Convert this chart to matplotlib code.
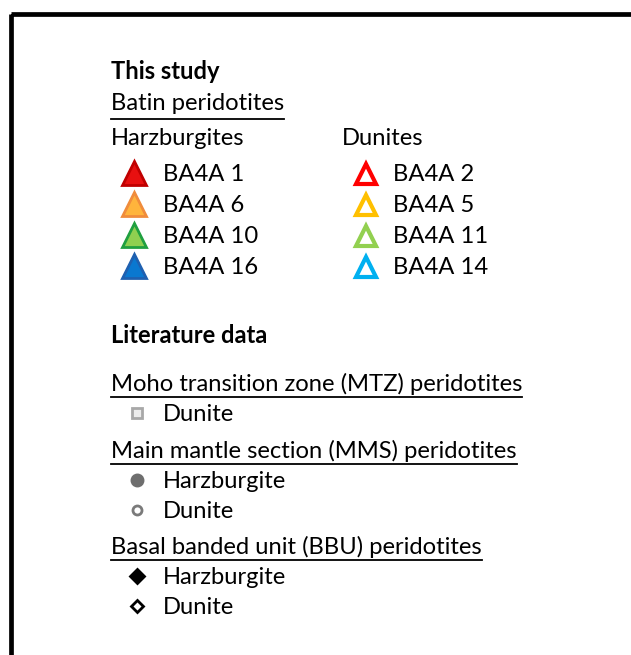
import matplotlib
matplotlib.use("Agg")
import matplotlib.pyplot as plt
from matplotlib.patches import Rectangle

plt.rcParams['font.family'] = ['Lato', 'DejaVu Sans']

# legend content
harz_labels = ["BA4A 1", "BA4A 6", "BA4A 10", "BA4A 16"]
harz_edge = ["#c00000", "#f08c3c", "#20a040", "#1f60b0"]
harz_face = ["#e81010", "#ffb43c", "#8fd050", "#0a78d0"]
dun_labels = ["BA4A 2", "BA4A 5", "BA4A 11", "BA4A 14"]
dun_edge = ["#ff0000", "#ffc000", "#92d050", "#00b0f0"]

lit_groups = ["Moho transition zone (MTZ) peridotites",
              "Main mantle section (MMS) peridotites",
              "Basal banded unit (BBU) peridotites"]
lit_items = [["Dunite"], ["Harzburgite", "Dunite"], ["Harzburgite", "Dunite"]]
lit_markers = [["s"], ["o", "o"], ["D", "D"]]
lit_face = [["#ececec"], ["#6e6e6e", "white"], ["black", "white"]]
lit_edge = [["#a8a8a8"], ["#6e6e6e", "#7a7a7a"], ["black", "black"]]
lit_ms = [[7], [8, 6.5], [7.5, 6.5]]

fs = 17.1
fig = plt.figure(figsize=(6.31, 6.55), dpi=100)
ax = fig.add_axes([0, 0, 1, 1])
ax.set_xlim(0, 631)
ax.set_ylim(655, 0)
ax.axis('off')

# border box (runs off the right/bottom of the picture)
ax.add_patch(Rectangle((10.5, 13.5), 700, 700, fill=False, lw=3.4, ec='black'))

fig.canvas.draw()
r = fig.canvas.get_renderer()


def txt(x, y, s, **kw):
    return ax.text(x, y, s, fontsize=fs, va='baseline', ha='left', **kw)


def underlined(x, y, s, gap):
    t = txt(x, y, s)
    bb = t.get_window_extent(r).transformed(ax.transData.inverted())
    ax.plot([x, bb.x1], [y + gap, y + gap], color='black', lw=1.3)


x0 = 111
txt(x0, 79, "This study", fontweight='bold')
underlined(x0, 110, "Batin peridotites", 9)
txt(x0, 145, "Harzburgites")
txt(342, 145, "Dunites")

for i in range(4):
    y = 173 + 31 * i
    ax.plot(134, y, marker='^', ms=17, mfc=harz_face[i], mec=harz_edge[i], mew=2)
    txt(163, y + 8, harz_labels[i])
    ax.plot(366, y + 1, marker='^', ms=15, mfc='white', mec=dun_edge[i], mew=3)
    txt(393, y + 8, dun_labels[i])

txt(x0, 343, "Literature data", fontweight='bold')

y = 391
for g in range(3):
    underlined(x0, y, lit_groups[g], 6)
    y += 22
    for k in range(len(lit_items[g])):
        ax.plot(137, y, marker=lit_markers[g][k], ms=lit_ms[g][k],
                mfc=lit_face[g][k], mec=lit_edge[g][k], mew=2)
        txt(163, y + 8, lit_items[g][k])
        y += 30
    y += 14.5

fig.savefig("out.png", dpi=100)
